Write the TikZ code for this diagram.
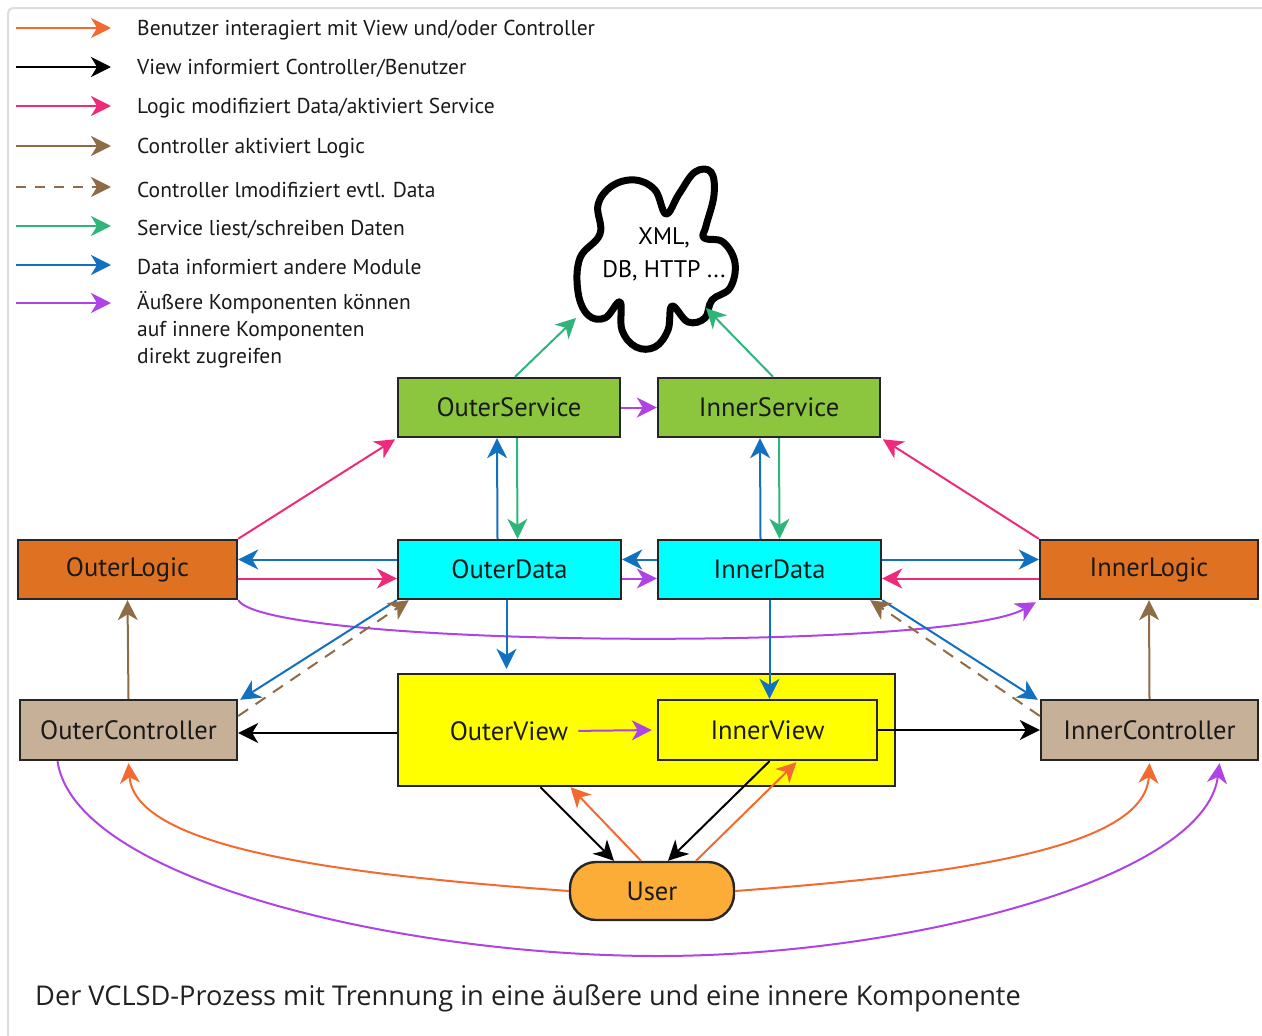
\documentclass[tikz,border=0pt]{standalone}
\usepackage{fontspec}
\setmainfont{PT Sans}
\newfontfamily\capfont{Open Sans}
\usetikzlibrary{arrows.meta,calc}

\definecolor{cService}{HTML}{8CC63F}
\definecolor{cData}{HTML}{00FFFF}
\definecolor{cLogic}{HTML}{DE7222}
\definecolor{cCtrl}{HTML}{C7B098}
\definecolor{cView}{HTML}{FFFF00}
\definecolor{cUser}{HTML}{FBAD38}
\definecolor{eOrange}{HTML}{F26A30}
\definecolor{ePink}{HTML}{EE2B7B}
\definecolor{eBrown}{HTML}{8F6B46}
\definecolor{eGreen}{HTML}{2FB57A}
\definecolor{eBlue}{HTML}{1171C0}
\definecolor{ePurple}{HTML}{B043E5}
\definecolor{frameGray}{HTML}{DDDDDD}
\definecolor{capGray}{HTML}{202122}

\begin{document}
\begin{tikzpicture}[x=1pt,y=-1pt,
  box/.style={draw=black!85, line width=2.4pt, minimum height=59pt,
    font=\fontsize{26.5}{30}\selectfont, text=black!90, inner sep=0pt},
  legtext/.style={anchor=west, font=\fontsize{21.5}{27}\selectfont, text=black!90,
    align=left, inner sep=0pt},
  arr/.style={line width=2pt, -{Stealth[length=20pt,width=20pt,inset=6pt]}},
  dashline/.style={dash pattern=on 12pt off 9pt},
]
\useasboundingbox (0,0) rectangle (1262,1036);

% outer frame
\draw[frameGray, line width=2pt, rounded corners=5pt] (8,1040) -- (8,8) -- (1270,8);

% legend
\foreach \i/\y/\c in {1/28/eOrange,2/67/black,3/106/ePink,4/146/eBrown,6/226/eGreen,7/265/eBlue,8/303/ePurple}{
  \coordinate (ls\i) at (16,\y);
  \coordinate (le\i) at (111,\y);
  \draw[arr, \c] (ls\i) -- (le\i);
}
\coordinate (ls5) at (16,187);
\coordinate (le5) at (111,187);
\draw[arr, eBrown, dash pattern=on 10pt off 9pt] (ls5) -- (le5);

\node[legtext] (lt1) at (137,30) {Benutzer interagiert mit View und/oder Controller};
\node[legtext] (lt2) at (137,68) {View informiert Controller/Benutzer};
\node[legtext] (lt3) at (137,108) {Logic modifiziert Data/aktiviert Service};
\node[legtext] (lt4) at (137,148) {Controller aktiviert Logic};
\node[legtext] (lt5) at (137,190) {Controller lmodifiziert evtl. Data};
\node[legtext] (lt6) at (137,229) {Service liest/schreiben Daten};
\node[legtext] (lt7) at (137,267) {Data informiert andere Module};
\node[legtext, anchor=north west] (lt8) at (137,291) {Äußere Komponenten können\\auf innere Komponenten\\direkt zugreifen};

% cloud
\draw[line width=7pt, line join=round] plot[smooth cycle, tension=0.65] coordinates {
  (600,234) (598,205) (612,186) (635,180) (655,190) (666,214)
  (679,194) (695,172) (711,172) (714,195) (706,226) (704,238)
  (723,242) (735,263) (730,288) (712,300)
  (705,318) (688,322) (672,306)
  (668,330) (655,347) (636,347) (622,330) (620,302)
  (605,318) (588,315) (578,292) (580,258)};
\node[font=\fontsize{24}{33}\selectfont, align=center, inner sep=0pt] (cloudtxt) at (664,254) {XML,\\DB, HTTP ...};
\coordinate (cl1) at (576,318);
\coordinate (cl2) at (706,308);

% components
\node[box, fill=cService, minimum width=222pt] (os) at (509,407.5) {OuterService};
\node[box, fill=cService, minimum width=222pt] (is) at (769,407.5) {InnerService};
\node[box, fill=cLogic, minimum width=219pt] (ol) at (127.5,569.5) {OuterLogic};
\node[box, fill=cData, minimum width=223pt] (od) at (509.5,569.5) {OuterData};
\node[box, fill=cData, minimum width=223pt] (id) at (769.5,569.5) {InnerData};
\node[box, fill=cLogic, minimum width=218pt] (il) at (1149,569.5) {InnerLogic};
\node[box, fill=cCtrl, minimum width=217pt, minimum height=60pt] (oc) at (128.5,730) {OuterController};
\node[box, fill=cCtrl, minimum width=217pt, minimum height=60pt] (ic) at (1149.5,730) {InnerController};
\node[box, fill=cView, minimum width=497pt, minimum height=112pt] (ov) at (646.5,730) {};
\node[font=\fontsize{26.5}{30}\selectfont, text=black!90, inner sep=0pt] (ovl) at (509,731) {OuterView};
\node[box, fill=cView, minimum width=219pt, minimum height=60pt] (iv) at (767.5,730) {InnerView};
\node[box, fill=cUser, minimum width=164pt, minimum height=58pt, rounded corners=26pt] (us) at (652,891) {User};

% service <-> storage
\draw[arr, eGreen] ([xshift=6pt]os.north) -- (cl1);
\draw[arr, eGreen] ([xshift=4pt]is.north) -- (cl2);
\draw[arr, ePurple] (os.east) -- (is.west);

% service <-> data
\draw[arr, eBlue] ([xshift=-12pt]od.north) -- ([xshift=-12pt]os.south);
\draw[arr, eGreen] ([xshift=8pt]os.south) -- ([xshift=8pt]od.north);
\draw[arr, eBlue] ([xshift=-9pt]id.north) -- ([xshift=-9pt]is.south);
\draw[arr, eGreen] ([xshift=10pt]is.south) -- ([xshift=10pt]id.north);

% logic -> service
\draw[arr, ePink, shorten >=2pt] (ol.north east) -- (os.south west);
\draw[arr, ePink, shorten >=2pt] (il.north west) -- (is.south east);

% logic <-> data
\draw[arr, eBlue] ([yshift=10pt]od.west) -- ([yshift=10pt]ol.east);
\draw[arr, ePink] ([yshift=-9pt]ol.east) -- ([yshift=-9pt]od.west);
\draw[arr, eBlue] ([yshift=10pt]id.west) -- ([yshift=10pt]od.east);
\draw[arr, ePurple] ([yshift=-9pt]od.east) -- ([yshift=-9pt]id.west);
\draw[arr, eBlue] ([yshift=10pt]id.east) -- ([yshift=10pt]il.west);
\draw[arr, ePink] ([yshift=-9pt]il.west) -- ([yshift=-9pt]id.east);

% outer logic -> inner logic
\draw[arr, ePurple] (ol.south east) .. controls (268,648) and (950,652) .. ([shift={(-3pt,-2pt)}]il.south west);

% data -> views
\coordinate (b1) at ([xshift=-3pt]od.south);
\draw[arr, eBlue] (b1) -- ([yshift=4pt]b1 |- ov.north);
\draw[arr, eBlue] (id.south) -- (id.south |- iv.north);

% data <-> controllers
\draw[arr, eBlue] (od.south west) -- ([shift={(2pt,-1pt)}]oc.north east);
\draw[arr, eBrown, dashline] ([yshift=14pt]oc.east) -- ([xshift=12pt]od.south west);
\draw[arr, eBlue] (id.south east) -- ([shift={(-2pt,-1pt)}]ic.north west);
\draw[arr, eBrown, dashline] ([yshift=14pt]ic.west) -- ([xshift=-12pt]id.south east);

% views -> controllers
\draw[arr, black] ([yshift=-3pt]ov.west) -- ([yshift=-3pt]oc.east);
\draw[arr, black] (iv.east) -- (ic.west);
\draw[arr, ePurple, shorten <=10pt, shorten >=5pt] (ovl.east) -- (iv.west);

% controllers -> logic
\draw[arr, eBrown] (oc.north) -- (ol.south);
\draw[arr, eBrown] (ic.north) -- (il.south);

% views <-> user
\draw[arr, black] ([xshift=-106pt]ov.south) -- ([xshift=-38pt]us.north);
\draw[arr, eOrange] ([xshift=-11pt]us.north) -- ([xshift=-76pt]ov.south);
\draw[arr, black] ([xshift=2pt]iv.south) -- ([xshift=16pt]us.north);
\draw[arr, eOrange] ([xshift=44pt]us.north) -- ([shift={(29pt,-1pt)}]iv.south);

% user -> controllers
\draw[arr, eOrange] (us.west) .. controls (350,875) and (135,850) .. ([yshift=-2pt]oc.south);
\draw[arr, eOrange] (us.east) .. controls (950,875) and (1145,850) .. ([yshift=-2pt]ic.south);

% outer controller -> inner controller
\draw[arr, ePurple] ([xshift=-71pt]oc.south) .. controls (75,880) and (400,955) .. (653,956)
  .. controls (900,957) and (1205,880) .. ([shift={(70pt,-2pt)}]ic.south);

% caption
\node[anchor=base west, inner sep=0pt, font=\capfont\fontsize{27.2}{30}\selectfont, text=capGray] (cap) at (35,1005)
  {Der VCLSD-Prozess mit Trennung in eine äußere und eine innere Komponente};
\end{tikzpicture}
\end{document}
